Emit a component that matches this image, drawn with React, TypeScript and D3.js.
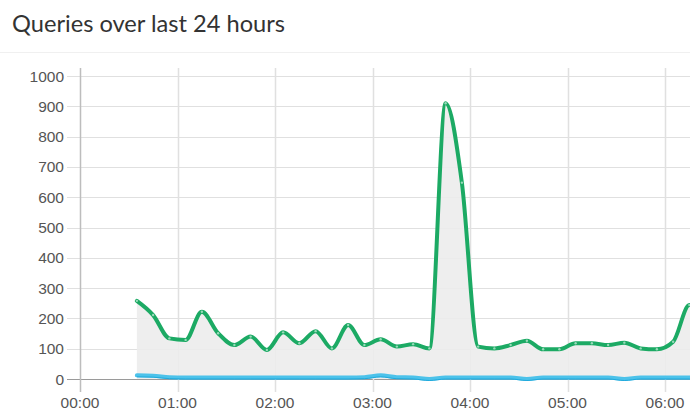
import React from "react";
import * as d3 from "d3";

const title = "Queries over last 24 hours";
const hourLabels = ["00:00", "01:00", "02:00", "03:00", "04:00", "05:00", "06:00"];
const yTicks = [0, 100, 200, 300, 400, 500, 600, 700, 800, 900, 1000];
const times = [
  "00:35", "00:45", "00:55", "01:05", "01:15", "01:25", "01:35", "01:45", "01:55",
  "02:05", "02:15", "02:25", "02:35", "02:45", "02:55", "03:05", "03:15", "03:25",
  "03:35", "03:45", "03:55", "04:05", "04:15", "04:25", "04:35", "04:45", "04:55",
  "05:05", "05:15", "05:25", "05:35", "05:45", "05:55", "06:05", "06:15", "06:25",
];
const totalQueries = [
  258, 211, 134, 129, 222, 151, 112, 140, 96, 154, 118, 158, 101, 178, 112, 131, 107, 115,
  101, 910, 648, 107, 101, 112, 126, 98, 98, 118, 118, 112, 120, 101, 98, 123, 244, 240,
];
const blockedQueries = [
  12, 11, 6, 5, 5, 5, 5, 5, 5, 5, 5, 5, 5, 5, 6, 12, 6, 5,
  0, 5, 5, 5, 5, 5, 0, 5, 5, 5, 5, 5, 0, 5, 5, 5, 5, 5,
];

const toMin = (t: string) => {
  const [h, m] = t.split(":").map(Number);
  return h * 60 + m;
};

export default function App() {
  const W = 690, H = 411;
  const x = d3.scaleLinear().domain([0, 360]).range([80, 665]);
  const y = d3.scaleLinear().domain([0, 1000]).range([379, 76]);
  const plotTop = 68, tickBottom = 392;

  const pts = times.map((t, i) => ({ m: toMin(t), v: totalQueries[i], b: blockedQueries[i] }));
  const line = d3.line<any>().x(d => x(d.m)).y(d => y(d.v)).curve(d3.curveMonotoneX);
  const area = d3.area<any>().x(d => x(d.m)).y0(y(0)).y1(d => y(d.v)).curve(d3.curveMonotoneX);
  const bline = d3.line<any>().x(d => x(d.m)).y(d => y(d.b)).curve(d3.curveMonotoneX);

  const font = "'Liberation Sans', Arial, Helvetica, sans-serif";
  const gridXs = d3.range(0, 8).map(h => h * 60);

  return (
    <div style={{ position: "absolute", left: 0, top: 0 }}>
      <svg width={W} height={H} style={{ display: "block", background: "#fff" }}>
        <text x={12} y={32} fontFamily="Lato, 'Open Sans', sans-serif" fontSize={23} fill="#333"
          textLength={273} lengthAdjust="spacingAndGlyphs">{title}</text>
        <line x1={0} x2={W} y1={52.5} y2={52.5} stroke="#f0f0f0" strokeWidth={1} />

        {yTicks.map(t => (
          <g key={"y" + t}>
            <line x1={67} x2={W} y1={Math.round(y(t)) + 0.5} y2={Math.round(y(t)) + 0.5}
              stroke={t === 0 ? "#9a9a9a" : "#e0e0e0"} strokeWidth={1} />
            <text x={64} y={y(t)} dy="0.36em" textAnchor="end" fontFamily={font} fontSize={15.5} fill="#555">{t}</text>
          </g>
        ))}
        {gridXs.map((m, i) => (
          <line key={"g" + m} x1={Math.round(x(m)) + 0.5} x2={Math.round(x(m)) + 0.5} y1={plotTop} y2={tickBottom}
            stroke={i === 0 ? "#bdbdbd" : "#e0e0e0"} strokeWidth={1.5} />
        ))}
        {hourLabels.map((l, i) => (
          <text key={l} x={x(i * 60)} y={408} textAnchor="middle" fontFamily={font} fontSize={15.5} fill="#555">{l}</text>
        ))}

        <path d={area(pts) || ""} fill="#ececec" fillOpacity={0.9} />
        <path d={line(pts) || ""} fill="none" stroke="#1caa64" strokeWidth={4} strokeLinejoin="round" strokeLinecap="round" />
        {pts.map((p, i) => (
          <circle key={"p" + i} cx={x(p.m)} cy={y(p.v)} r={1.2} fill="rgba(255,255,255,0.55)" />
        ))}
        <path d={bline(pts) || ""} fill="none" stroke="#4cc2ea" strokeWidth={4} strokeLinecap="round" />
        <path d={bline(pts) || ""} fill="none" stroke="#1fa9dc" strokeWidth={1} transform="translate(0,1.5)" />
      </svg>
    </div>
  );
}
